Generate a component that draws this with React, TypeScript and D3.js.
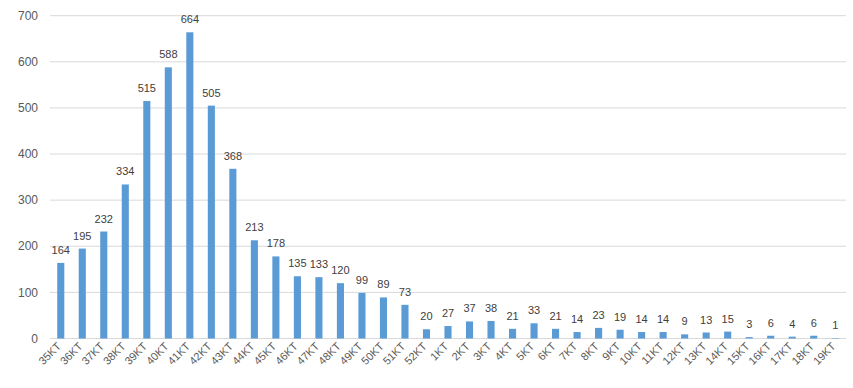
import React from 'react'
import * as d3 from 'd3'

// categories and counts
const categories = [
  '35KT', '36KT', '37KT', '38KT', '39KT', '40KT', '41KT', '42KT', '43KT', '44KT',
  '45KT', '46KT', '47KT', '48KT', '49KT', '50KT', '51KT', '52KT',
  '1KT', '2KT', '3KT', '4KT', '5KT', '6KT', '7KT', '8KT', '9KT', '10KT',
  '11KT', '12KT', '13KT', '14KT', '15KT', '16KT', '17KT', '18KT', '19KT'
]
const counts = [
  164, 195, 232, 334, 515, 588, 664, 505, 368, 213,
  178, 135, 133, 120, 99, 89, 73, 20,
  27, 37, 38, 21, 33, 21, 14, 23, 19, 14,
  14, 9, 13, 15, 3, 6, 4, 6, 1
]
const yTicks = [0, 100, 200, 300, 400, 500, 600, 700]

const WIDTH = 854
const HEIGHT = 388
const PLOT = { LEFT: 50, RIGHT: 846, TOP: 15.7, BOTTOM: 338.5 }
const FONT = '"Liberation Sans", Arial, sans-serif'

export default function App() {
  const x = d3.scaleBand<string>()
    .domain(categories)
    .range([PLOT.LEFT, PLOT.RIGHT])
    .paddingInner(0.67)
    .paddingOuter(0.335)

  const y = d3.scaleLinear()
    .domain([0, 700])
    .range([PLOT.BOTTOM, PLOT.TOP])

  return (
    <div style={{ position: 'absolute', left: 0, top: 0 }}>
      <svg width={WIDTH} height={HEIGHT} style={{ display: 'block', background: '#fff' }}>
        {/* gridlines + y labels */}
        {yTicks.map(t => (
          <g key={t}>
            <line x1={PLOT.LEFT} x2={PLOT.RIGHT} y1={y(t)} y2={y(t)}
              stroke="#d9d9d9" strokeWidth={1} />
            <text x={38} y={y(t)} dy="0.35em" textAnchor="end"
              fontFamily={FONT} fontSize={12} fill="#595959">{t}</text>
          </g>
        ))}

        {/* bars */}
        {categories.map((c, i) => (
          <rect key={c} x={x(c)} y={y(counts[i])} width={x.bandwidth()}
            height={y(0) - y(counts[i])} fill="#5b9bd5" />
        ))}

        {/* data labels */}
        {categories.map((c, i) => (
          <text key={c} x={(x(c) ?? 0) + x.bandwidth() / 2} y={y(counts[i]) - 9}
            textAnchor="middle" fontFamily={FONT} fontSize={11} fill="#404040">
            {counts[i]}
          </text>
        ))}

        {/* x labels */}
        {categories.map(c => {
          const cx = (x(c) ?? 0) + x.bandwidth() / 2
          return (
            <text key={c} transform={`translate(${cx + 1}, 347) rotate(-45)`}
              textAnchor="end" fontFamily={FONT} fontSize={11} fill="#595959">
              {c}
            </text>
          )
        })}

        {/* chart border edge */}
        <line x1={853.5} x2={853.5} y1={0} y2={HEIGHT} stroke="#d9d9d9" />
      </svg>
    </div>
  )
}
